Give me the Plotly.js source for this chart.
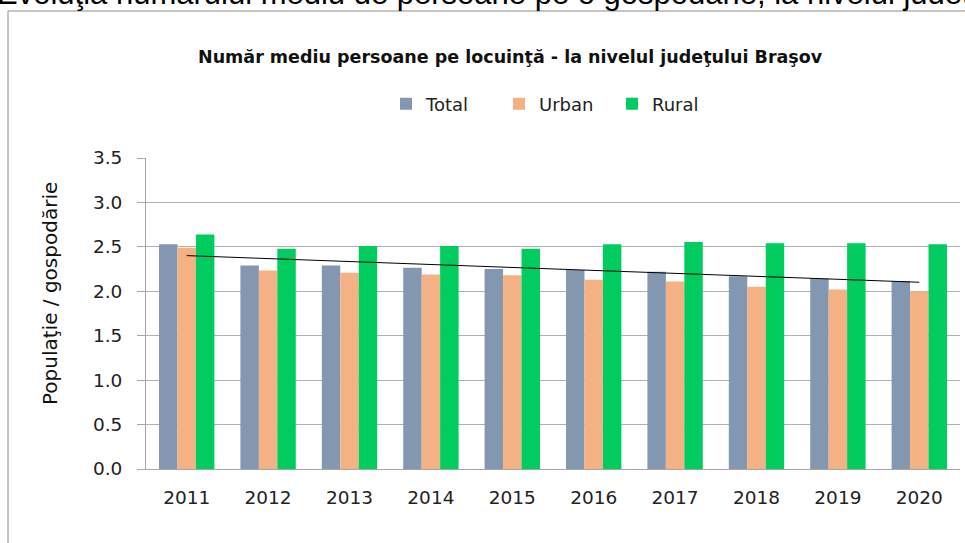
<!DOCTYPE html>
<html>
<head>
<meta charset="utf-8">
<script src="https://cdn.plot.ly/plotly-3.0.1.min.js"></script>
<style>html,body{margin:0;padding:0;background:#fff;}#chart{width:965px;height:543px;}</style>
</head>
<body>
<div id="chart"></div>
<script>
const years = ['2011','2012','2013','2014','2015','2016','2017','2018','2019','2020'];
const totalVals = [2.53, 2.29, 2.29, 2.265, 2.25, 2.24, 2.22, 2.17, 2.145, 2.115];
const urbanVals = [2.49, 2.235, 2.21, 2.19, 2.18, 2.13, 2.11, 2.05, 2.02, 2.00];
const ruralVals = [2.64, 2.48, 2.51, 2.51, 2.48, 2.53, 2.555, 2.54, 2.54, 2.53];
const seriesNames = ['Total', 'Urban', 'Rural'];
const yTicks = [0, 0.5, 1, 1.5, 2, 2.5, 3, 3.5];

// linear trendline of Total (least squares)
const n = totalVals.length;
let sx=0, sy=0, sxy=0, sxx=0;
for (let i=0;i<n;i++){ const x=i+1; sx+=x; sy+=totalVals[i]; sxy+=x*totalVals[i]; sxx+=x*x; }
const slope = (n*sxy - sx*sy)/(n*sxx - sx*sx);
const icpt = (sy - slope*sx)/n;
const trend = years.map((_,i)=> icpt + slope*(i+1));

const W=965, H=543, ML=146, MR=5, MT=158, MB=74;
const pw = W-ML-MR, ph = H-MT-MB;
const px = x => (x-ML)/pw;
const py = y => (H-MB-y)/ph;

const font = '"DejaVu Sans", sans-serif';
const traces = [
  {type:'bar', name:seriesNames[0], x:years, y:totalVals, marker:{color:'#8497B0'}},
  {type:'bar', name:seriesNames[1], x:years, y:urbanVals, marker:{color:'#F4B183'}},
  {type:'bar', name:seriesNames[2], x:years, y:ruralVals, marker:{color:'#00CC60'}},
  {type:'scatter', mode:'lines', x:years, y:trend, line:{color:'#000', width:1}, showlegend:false, hoverinfo:'skip'}
];

const layout = {
  width:W, height:H,
  margin:{l:ML, r:MR, t:MT, b:MB},
  paper_bgcolor:'#fff', plot_bgcolor:'#fff',
  barmode:'group', bargap:0.32, bargroupgap:0,
  showlegend:true,
  legend:{orientation:'h', x:px(386), xanchor:'left', xref:'paper', y:py(104), yanchor:'middle',
          font:{family:font, size:18, color:'#222'}, traceorder:'normal', itemwidth:30,
          entrywidth:68, entrywidthmode:'pixels'},
  xaxis:{type:'category', showgrid:false, showline:true, linecolor:'#a6a6a6', linewidth:1,
         ticks:'', tickfont:{family:font, size:18.5, color:'#222'}, ticklabelstandoff:12, fixedrange:true},
  yaxis:{range:[0,3.5], tickvals:yTicks, ticktext:yTicks.map(v=>v.toFixed(1)),
         showgrid:true, gridcolor:'#b0b0b0', gridwidth:1, zeroline:false,
         showline:true, linecolor:'#a6a6a6', linewidth:1, ticks:'outside', ticklen:8, tickcolor:'#a6a6a6',
         tickfont:{family:font, size:18.5, color:'#222'}, ticklabelstandoff:11},
  annotations:[
    {text:'<b>Număr mediu persoane pe locuinţă - la nivelul judeţului Braşov</b>', xref:'paper', yref:'paper',
     x:px(510), y:py(57), xanchor:'center', yanchor:'middle', showarrow:false,
     font:{family:font, size:17.5, color:'#111'}},
    {text:'Populaţie / gospodărie', xref:'paper', yref:'paper', textangle:-90,
     x:px(50), y:py(294), xanchor:'center', yanchor:'middle', showarrow:false,
     font:{family:font, size:20, color:'#111'}},
    {text:'Evoluţia numărului mediu de persoane pe o gospodărie, la nivelul judeţului Braşov', xref:'paper', yref:'paper',
     x:px(-5), y:py(-7), xanchor:'left', yanchor:'middle', showarrow:false,
     font:{family:'"Liberation Sans", Arial, sans-serif', size:31, color:'#000'}}
  ],
  shapes:[
    {type:'rect', xref:'paper', yref:'paper', x0:px(8), x1:px(1000), y0:py(11), y1:py(600),
     line:{color:'#8c8c8c', width:1}, fillcolor:'rgba(0,0,0,0)', layer:'below'}
  ]
};

Plotly.newPlot('chart', traces, layout, {staticPlot:true, displayModeBar:false});
</script>
</body>
</html>
